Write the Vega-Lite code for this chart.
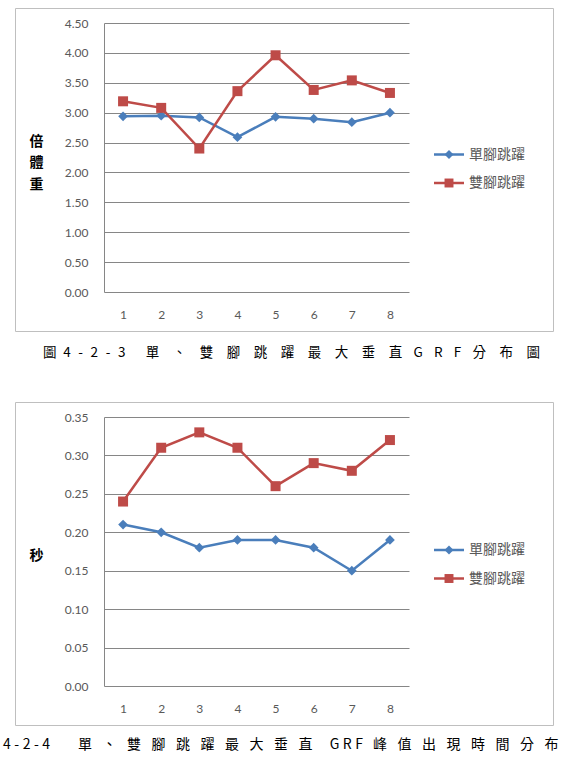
{
  "$schema": "https://vega.github.io/schema/vega-lite/v6.json",
  "background": "white",
  "padding": {"left": 2, "top": 7, "right": 0, "bottom": 0},
  "spacing": 41,
  "config": {
    "view": {"stroke": "#bfbfbf", "strokeWidth": 1},
    "font": "Noto Sans CJK TC",
    "axis": {"labelFont": "Lato", "labelFontSize": 12, "labelColor": "#595959"}
  },
  "datasets": {
    "grf": [
      {"n": 1, "s": "單腳跳躍", "v": 2.94}, {"n": 2, "s": "單腳跳躍", "v": 2.95}, {"n": 3, "s": "單腳跳躍", "v": 2.92}, {"n": 4, "s": "單腳跳躍", "v": 2.59},
      {"n": 5, "s": "單腳跳躍", "v": 2.93}, {"n": 6, "s": "單腳跳躍", "v": 2.90}, {"n": 7, "s": "單腳跳躍", "v": 2.84}, {"n": 8, "s": "單腳跳躍", "v": 3.00},
      {"n": 1, "s": "雙腳跳躍", "v": 3.19}, {"n": 2, "s": "雙腳跳躍", "v": 3.08}, {"n": 3, "s": "雙腳跳躍", "v": 2.40}, {"n": 4, "s": "雙腳跳躍", "v": 3.36},
      {"n": 5, "s": "雙腳跳躍", "v": 3.96}, {"n": 6, "s": "雙腳跳躍", "v": 3.38}, {"n": 7, "s": "雙腳跳躍", "v": 3.54}, {"n": 8, "s": "雙腳跳躍", "v": 3.33}
    ],
    "time": [
      {"n": 1, "s": "單腳跳躍", "v": 0.21}, {"n": 2, "s": "單腳跳躍", "v": 0.20}, {"n": 3, "s": "單腳跳躍", "v": 0.18}, {"n": 4, "s": "單腳跳躍", "v": 0.19},
      {"n": 5, "s": "單腳跳躍", "v": 0.19}, {"n": 6, "s": "單腳跳躍", "v": 0.18}, {"n": 7, "s": "單腳跳躍", "v": 0.15}, {"n": 8, "s": "單腳跳躍", "v": 0.19},
      {"n": 1, "s": "雙腳跳躍", "v": 0.24}, {"n": 2, "s": "雙腳跳躍", "v": 0.31}, {"n": 3, "s": "雙腳跳躍", "v": 0.33}, {"n": 4, "s": "雙腳跳躍", "v": 0.31},
      {"n": 5, "s": "雙腳跳躍", "v": 0.26}, {"n": 6, "s": "雙腳跳躍", "v": 0.29}, {"n": 7, "s": "雙腳跳躍", "v": 0.28}, {"n": 8, "s": "雙腳跳躍", "v": 0.32}
    ]
  },
  "vconcat": [
    {
      "width": 538,
      "height": 323,
      "data": {"name": "grf"},
      "title": {
        "text": "圖\u20024\u2002\u200a-\u2002\u200a2\u2002\u200a-\u2002\u200a3\u3000\u2002單\u3000、\u3000雙\u3000腳\u3000跳\u3000躍\u3000最\u3000大\u3000垂\u3000直\u2002\u2004G\u2002\u2004R\u2002\u2004F\u2002\u2004分\u3000布\u3000圖",
        "orient": "bottom", "anchor": "start", "frame": "group", "dx": 28, "offset": 15,
        "baseline": "top", "font": "Noto Sans CJK TC", "fontSize": 13.5, "fontWeight": "normal", "color": "#000000"
      },
      "resolve": {"scale": {"x": "independent", "y": "independent"}, "axis": {"x": "independent", "y": "independent"}},
      "layer": [
        {
          "encoding": {
            "x": {
              "field": "n", "type": "ordinal",
              "scale": {"type": "point", "padding": 0.5, "range": [89, 394]},
              "axis": {"title": null, "labelAngle": 0, "domain": false, "ticks": false, "grid": false, "labelPadding": 17, "offset": -39}
            },
            "y": {
              "field": "v", "type": "quantitative",
              "scale": {"domain": [0, 4.5], "range": [284, 15], "nice": false},
              "axis": {
                "title": ["倍", "體", "重"],
                "values": [0, 0.5, 1, 1.5, 2, 2.5, 3, 3.5, 4, 4.5], "format": ".2f",
                "offset": -89, "domain": true, "domainColor": "#868686", "ticks": false, "labelPadding": 16,
                "grid": true, "gridColor": "#868686", "gridWidth": 1,
                "titleAngle": 0, "titleX": -68, "titleY": 133, "titleAlign": "center", "titleBaseline": "middle",
                "titleFontSize": 14, "titleFontWeight": "bold", "titleLineHeight": 21.5, "titleColor": "#000000", "titleFont": "Noto Sans CJK TC"
              }
            }
          },
          "layer": [
            {
              "mark": {"type": "line", "strokeWidth": 2.5},
              "encoding": {"color": {"field": "s", "type": "nominal", "scale": {"domain": ["單腳跳躍", "雙腳跳躍"], "range": ["#4A7EBB", "#BE4B48"]}, "legend": null}}
            },
            {
              "transform": [{"filter": "datum.s == '單腳跳躍'"}],
              "mark": {"type": "point", "shape": "diamond", "filled": true, "opacity": 1, "size": 95, "color": "#4A7EBB"}
            },
            {
              "transform": [{"filter": "datum.s == '雙腳跳躍'"}],
              "mark": {"type": "point", "shape": "square", "filled": true, "opacity": 1, "size": 100, "color": "#BE4B48"}
            }
          ]
        },
        {
          "transform": [{"filter": "datum.n == 1"}],
          "encoding": {
            "y": {"field": "s", "type": "nominal", "scale": {"type": "point", "padding": 0, "domain": ["單腳跳躍", "雙腳跳躍"], "range": [146.5, 175]}, "axis": null},
            "color": {"field": "s", "type": "nominal", "scale": {"domain": ["單腳跳躍", "雙腳跳躍"], "range": ["#4A7EBB", "#BE4B48"]}, "legend": null}
          },
          "layer": [
            {
              "mark": {"type": "rule", "strokeWidth": 2.5},
              "encoding": {
                "x": {"datum": 0, "type": "quantitative", "scale": {"domain": [0, 1], "range": [419, 449]}, "axis": null},
                "x2": {"datum": 1}
              }
            },
            {
              "mark": {"type": "point", "filled": true, "opacity": 1, "size": 80},
              "encoding": {
                "x": {"datum": 0.5, "type": "quantitative"},
                "shape": {"field": "s", "type": "nominal", "scale": {"domain": ["單腳跳躍", "雙腳跳躍"], "range": ["diamond", "square"]}, "legend": null}
              }
            },
            {
              "mark": {"type": "text", "align": "left", "baseline": "middle", "font": "Noto Sans CJK TC", "fontSize": 14, "color": "#595959"},
              "encoding": {
                "x": {"datum": 1.167, "type": "quantitative"},
                "text": {"field": "s"},
                "color": {"value": "#595959"}
              }
            }
          ]
        }
      ]
    },
    {
      "width": 538,
      "height": 323,
      "data": {"name": "time"},
      "title": {
        "text": "4\u2005-\u20052\u2005-\u20054\u3000\u3000單\u2002\u2005、\u2002\u2005雙\u2002\u2005腳\u2002\u2005跳\u2002\u2005躍\u2002\u2005最\u2002\u2005大\u2002\u2005垂\u2002\u2005直\u3000 G\u2005R\u2005F \u2002峰\u2002\u2005值\u2002\u2005出\u2002\u2005現\u2002\u2005時\u2002\u2005間\u2002\u2005分\u2002\u2005布",
        "orient": "bottom", "anchor": "start", "frame": "group", "dx": -12, "offset": 13,
        "baseline": "top", "font": "Noto Sans CJK TC", "fontSize": 14, "fontWeight": "normal", "color": "#000000"
      },
      "resolve": {"scale": {"x": "independent", "y": "independent"}, "axis": {"x": "independent", "y": "independent"}},
      "layer": [
        {
          "encoding": {
            "x": {
              "field": "n", "type": "ordinal",
              "scale": {"type": "point", "padding": 0.5, "range": [89, 394]},
              "axis": {"title": null, "labelAngle": 0, "domain": false, "ticks": false, "grid": false, "labelPadding": 17, "offset": -39}
            },
            "y": {
              "field": "v", "type": "quantitative",
              "scale": {"domain": [0, 0.35], "range": [284, 15], "nice": false},
              "axis": {
                "title": "秒",
                "values": [0, 0.05, 0.1, 0.15, 0.2, 0.25, 0.3, 0.35], "format": ".2f",
                "offset": -89, "domain": true, "domainColor": "#868686", "ticks": false, "labelPadding": 16,
                "grid": true, "gridColor": "#868686", "gridWidth": 1,
                "titleAngle": 0, "titleX": -68, "titleY": 153, "titleAlign": "center", "titleBaseline": "middle",
                "titleFontSize": 14, "titleFontWeight": "bold", "titleColor": "#000000", "titleFont": "Noto Sans CJK TC"
              }
            }
          },
          "layer": [
            {
              "mark": {"type": "line", "strokeWidth": 2.5},
              "encoding": {"color": {"field": "s", "type": "nominal", "scale": {"domain": ["單腳跳躍", "雙腳跳躍"], "range": ["#4A7EBB", "#BE4B48"]}, "legend": null}}
            },
            {
              "transform": [{"filter": "datum.s == '單腳跳躍'"}],
              "mark": {"type": "point", "shape": "diamond", "filled": true, "opacity": 1, "size": 95, "color": "#4A7EBB"}
            },
            {
              "transform": [{"filter": "datum.s == '雙腳跳躍'"}],
              "mark": {"type": "point", "shape": "square", "filled": true, "opacity": 1, "size": 100, "color": "#BE4B48"}
            }
          ]
        },
        {
          "transform": [{"filter": "datum.n == 1"}],
          "encoding": {
            "y": {"field": "s", "type": "nominal", "scale": {"type": "point", "padding": 0, "domain": ["單腳跳躍", "雙腳跳躍"], "range": [148, 176.5]}, "axis": null},
            "color": {"field": "s", "type": "nominal", "scale": {"domain": ["單腳跳躍", "雙腳跳躍"], "range": ["#4A7EBB", "#BE4B48"]}, "legend": null}
          },
          "layer": [
            {
              "mark": {"type": "rule", "strokeWidth": 2.5},
              "encoding": {
                "x": {"datum": 0, "type": "quantitative", "scale": {"domain": [0, 1], "range": [419, 449]}, "axis": null},
                "x2": {"datum": 1}
              }
            },
            {
              "mark": {"type": "point", "filled": true, "opacity": 1, "size": 80},
              "encoding": {
                "x": {"datum": 0.5, "type": "quantitative"},
                "shape": {"field": "s", "type": "nominal", "scale": {"domain": ["單腳跳躍", "雙腳跳躍"], "range": ["diamond", "square"]}, "legend": null}
              }
            },
            {
              "mark": {"type": "text", "align": "left", "baseline": "middle", "font": "Noto Sans CJK TC", "fontSize": 14, "color": "#595959"},
              "encoding": {
                "x": {"datum": 1.167, "type": "quantitative"},
                "text": {"field": "s"},
                "color": {"value": "#595959"}
              }
            }
          ]
        }
      ]
    }
  ]
}
